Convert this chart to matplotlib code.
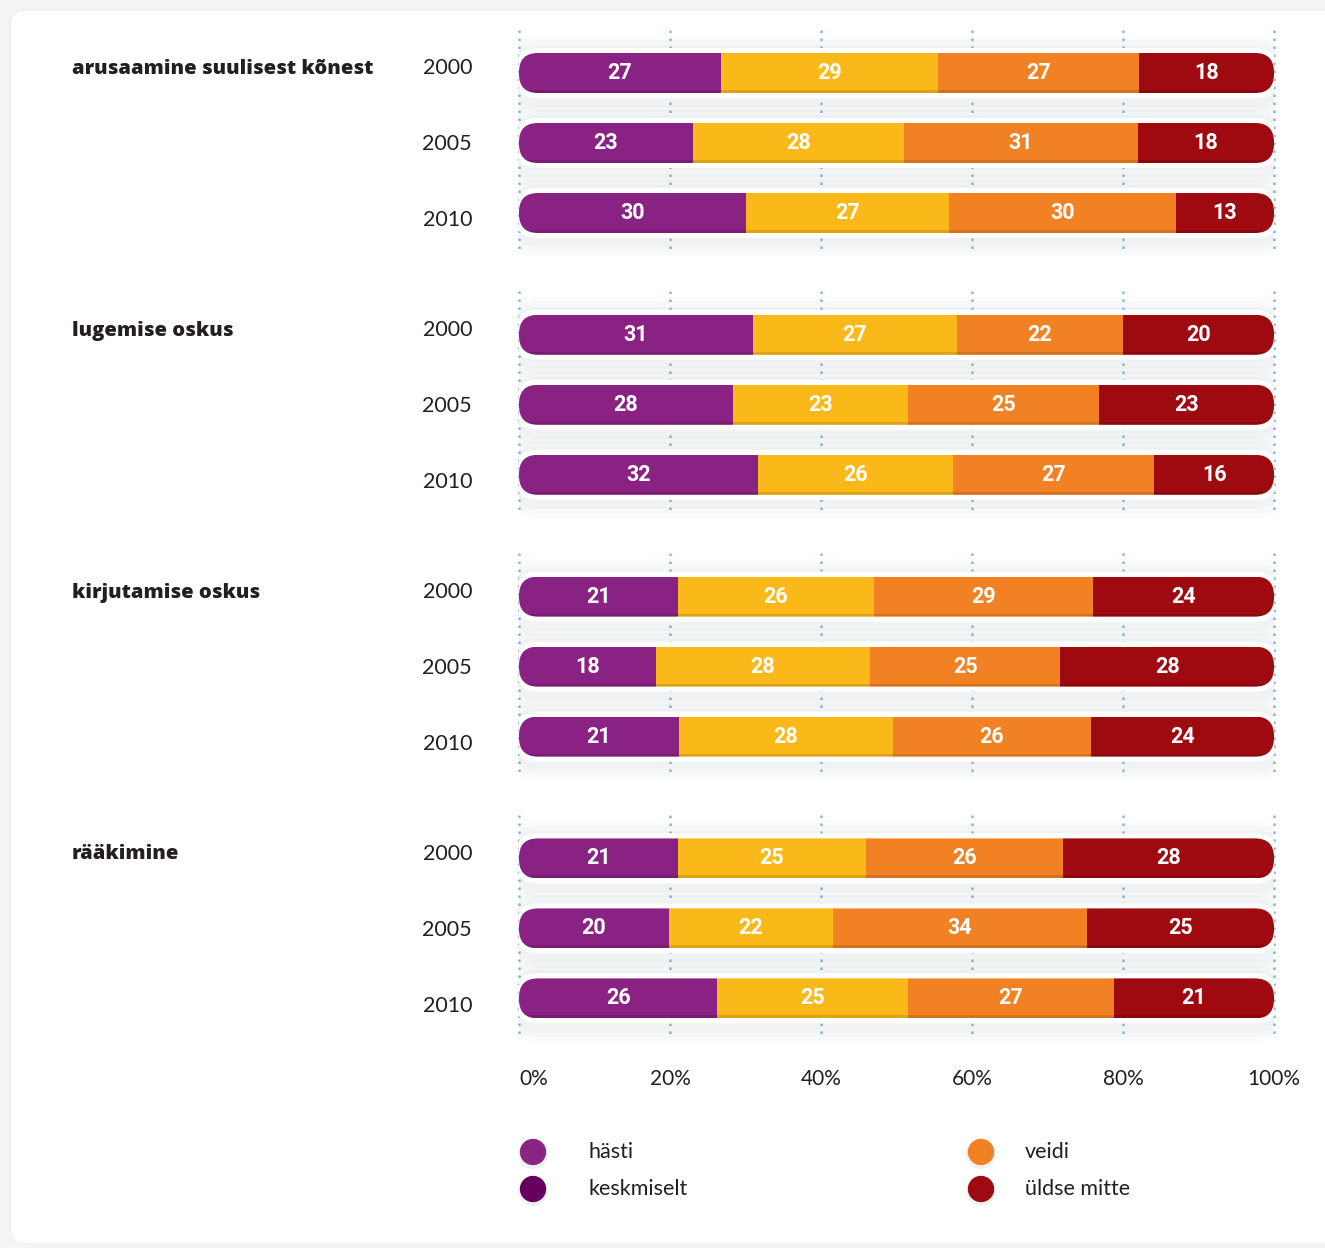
import matplotlib
matplotlib.use("Agg")
import matplotlib.pyplot as plt
import numpy as np
from matplotlib.patches import FancyBboxPatch

# Data
groups = ['arusaamine suulisest kõnest', 'lugemise oskus', 'kirjutamise oskus', 'rääkimine']
years = ['2000', '2005', '2010']
hasti = [27, 23, 30, 31, 28, 32, 21, 18, 21, 21, 20, 26]
keskmiselt = [29, 28, 27, 27, 23, 26, 26, 28, 28, 25, 22, 25]
veidi = [27, 31, 30, 22, 25, 27, 29, 25, 26, 26, 34, 27]
uldse = [18, 18, 13, 20, 23, 16, 24, 28, 24, 28, 25, 21]
ticks = [0, 20, 40, 60, 80, 100]
tick_labels = ['0%', '20%', '40%', '60%', '80%', '100%']

legend_names = ['hästi', 'keskmiselt', 'veidi', 'üldse mitte']
legend_colors = ['#8b2585', '#66005f', '#f28123', '#9e0a0f']
seg_colors = ['#8a2283', '#fbb819', '#f28123', '#9e0a0f']

W, H = 1325, 1248
txt = '#231f20'
font = 'Lato'

fig = plt.figure(figsize=(W / 100, H / 100), dpi=100)
fig.patch.set_facecolor('#f4f5f6')

# background card (pixel coords)
bg = fig.add_axes([0, 0, 1, 1])
bg.set_xlim(0, W)
bg.set_ylim(H, 0)
bg.axis('off')
bg.add_patch(FancyBboxPatch((10, 10), W + 40, H - 14,
                            boxstyle='round,pad=0,rounding_size=16',
                            facecolor='white', edgecolor='#eceef0', lw=1))

# main axes: x in percent, y in rows (1 row = 70 px)
row_px = 70.0
x0_px, x1_px = 519, 1274
ax_bottom_px = 1062
top_row_px = 73
ax = fig.add_axes([x0_px / W, 1 - ax_bottom_px / H, (x1_px - x0_px) / W, ax_bottom_px / H])
ax.set_facecolor('none')
ax.set_xlim(0, 100)
ax.set_ylim((ax_bottom_px - top_row_px) / row_px, -top_row_px / row_px)
for s in ax.spines.values():
    s.set_visible(False)
ax.set_yticks([])
ax.set_xticks(ticks)
ax.set_xticklabels(tick_labels, fontsize=15, color=txt, family=font)
ax.tick_params(axis='x', length=0, pad=5)
ax.get_xticklabels()[0].set_ha('left')

px_x = (x1_px - x0_px) / 100.0
asp = px_x / row_px
group_gap = 3.74
bar_h = 40 / row_px


def pill(x, y, w, h, r_px, **kw):
    return FancyBboxPatch((x, y), w, h,
                          boxstyle='round,pad=0,rounding_size=%f' % (r_px / px_x),
                          mutation_aspect=asp, **kw)


data = np.array([hasti, keskmiselt, veidi, uldse], dtype=float)

for g, name in enumerate(groups):
    gy = g * group_gap
    # dotted grid lines per group
    for t in ticks:
        ax.plot([t, t], [gy - 0.62, gy + 2.58], color='#8bbad0', lw=1.8,
                linestyle=(0, (1, 2.2)), zorder=1, clip_on=False)
    bg.text(72, top_row_px + gy * row_px - 4, name, fontsize=14.5, fontweight='heavy',
            color=txt, family='Open Sans', ha='left', va='center')
    for r, yr in enumerate(years):
        i = g * 3 + r
        yc = gy + r
        vals = data[:, i]
        widths = vals / vals.sum() * 100
        lefts = np.concatenate([[0], np.cumsum(widths)[:-1]])

        bg.text(472, top_row_px + yc * row_px - 4.5 + r * 6, yr, fontsize=15.5,
                color=txt, family=font, ha='right', va='center')

        # soft shadow + white ring
        pad_x, pad_y = 5 / px_x, 5 / row_px
        for k, a in [(16, 0.025), (11, 0.035), (6, 0.045)]:
            ax.add_patch(pill(-pad_x - k / px_x, yc - bar_h / 2 - pad_y - k / row_px + 3 / row_px,
                              100 + 2 * pad_x + 2 * k / px_x, bar_h + 2 * pad_y + 2 * k / row_px,
                              24 + k, facecolor='#7a8a99', edgecolor='none', alpha=a, zorder=2))
        ax.add_patch(pill(-pad_x, yc - bar_h / 2 - pad_y, 100 + 2 * pad_x, bar_h + 2 * pad_y,
                          24, facecolor='white', edgecolor='none', zorder=3))
        clip = pill(0, yc - bar_h / 2, 100, bar_h, 19, facecolor='none', edgecolor='none', zorder=5)
        ax.add_patch(clip)
        bars = ax.barh([yc] * 4, widths, left=lefts, height=bar_h, color=seg_colors,
                       edgecolor='none', zorder=4)
        for b in bars:
            b.set_clip_path(clip)
        # darker bottom edge
        for l, w, c in zip(lefts, widths, seg_colors):
            hl = ax.barh(yc + bar_h / 2 - 1.5 / row_px, w, left=l, height=3 / row_px,
                         color='black', alpha=0.12, edgecolor='none', zorder=4.5)
            hl[0].set_clip_path(clip)
        for l, w, v in zip(lefts, widths, vals):
            ax.text(l + w / 2, yc, '%d' % v, color='white', fontsize=15.5, fontweight='bold',
                    family='Roboto', ha='center', va='center', zorder=6)

# legend
leg_pos = [(533, 1152, 588), (533, 1189, 588), (981, 1152, 1025), (981, 1189, 1025)]
for (lx, ly, tx), nm, c in zip(leg_pos, legend_names, legend_colors):
    bg.scatter([lx], [ly + 2], s=460, color='#9aa6b2', alpha=0.15, edgecolors='none', zorder=2)
    bg.scatter([lx], [ly], s=360, color=c, edgecolors='none', zorder=3)
    bg.text(tx, ly, nm, fontsize=15.5, color=txt, family=font, ha='left', va='center')

fig.savefig('out.png', dpi=100, facecolor=fig.get_facecolor())
